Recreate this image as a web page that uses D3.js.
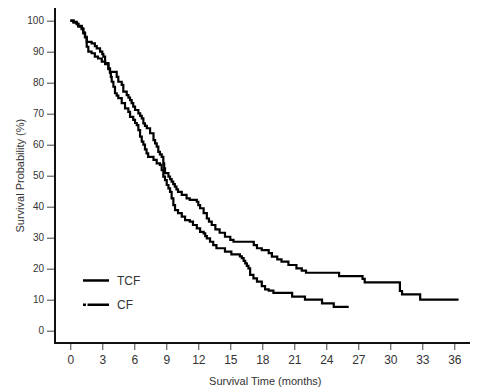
<!DOCTYPE html>
<html>
<head>
<meta charset="utf-8">
<script src="https://cdn.jsdelivr.net/npm/d3@7"></script>
<style>
  body { margin: 0; background: #fff; }
  #chart { width: 484px; height: 389px; }
  text { font-family: 'Liberation Sans', Arial, sans-serif; fill: #333; }
</style>
</head>
<body>
<div id="chart"></div>
<script>
// Kaplan-Meier steps: [months, survival %]
const tcfSteps = [
  [0, 100], [0.3, 99.4], [0.6, 98.9], [0.75, 98.1], [1.07, 97.5], [1.22, 96.2], [1.38, 94.8], [1.54, 93.2],
  [2.0, 92.7], [2.3, 91.8], [2.48, 91.1], [2.79, 90.0], [3.0, 89.2], [3.1, 88.4], [3.26, 86.3], [3.57, 84.6],
  [3.72, 83.5], [4.35, 81.9], [4.5, 80.3], [4.82, 79.3], [4.97, 77.1], [5.29, 76.0], [5.45, 75.2], [5.6, 74.4],
  [5.75, 73.4], [5.9, 72.3], [6.07, 71.2], [6.38, 70.1], [6.55, 69.3], [6.7, 68.5], [6.85, 66.9], [7.0, 66.1],
  [7.17, 65.3], [7.48, 63.7], [7.8, 61.5], [7.95, 60.4], [8.1, 59.4], [8.25, 57.7], [8.4, 56.9], [8.57, 56.1],
  [8.72, 54.0], [8.8, 52.4], [8.88, 50.8], [9.2, 49.7], [9.35, 48.9], [9.5, 48.1], [9.65, 47.3], [9.8, 46.5],
  [9.95, 45.6], [10.1, 44.8], [10.45, 43.8], [10.9, 42.7], [11.2, 42.2], [11.86, 41.6], [12.0, 40.5],
  [12.17, 39.5], [12.5, 37.9], [12.8, 36.2], [13.0, 35.2], [13.26, 34.1], [13.6, 32.7], [14.0, 31.6],
  [14.5, 30.3], [15.0, 29.3], [15.3, 28.7], [17.2, 27.6], [17.5, 26.6], [17.95, 26.0], [18.6, 25.0],
  [18.9, 23.9], [19.4, 23.0], [19.8, 22.3], [20.45, 21.2], [21.2, 20.1], [21.7, 19.4], [22.1, 18.7],
  [25.2, 17.6], [27.4, 16.7], [27.6, 15.6], [30.9, 12.8], [31.1, 11.7], [32.8, 10.0], [36.4, 10.0]
];
const cfSteps = [
  [0, 100], [0.3, 99.6], [0.6, 99.1], [0.75, 98.3], [1.07, 97.3], [1.22, 95.9], [1.38, 94.6], [1.54, 91.6],
  [1.69, 90.0], [2.0, 89.5], [2.3, 88.4], [2.6, 87.8], [2.95, 86.8], [3.26, 86.0], [3.57, 84.4], [3.72, 83.2],
  [3.8, 81.9], [3.88, 80.3], [4.04, 78.7], [4.19, 76.6], [4.35, 75.8], [4.5, 75.0], [4.82, 73.4], [5.13, 71.7],
  [5.44, 70.6], [5.6, 69.0], [5.9, 68.0], [6.07, 67.0], [6.23, 66.3], [6.38, 64.7], [6.54, 62.6], [6.7, 61.0],
  [6.85, 60.0], [7.0, 58.5], [7.15, 57.2], [7.3, 56.1], [7.8, 55.1], [8.1, 54.0], [8.4, 53.5], [8.57, 51.8],
  [8.72, 49.7], [8.88, 48.6], [9.04, 47.0], [9.2, 45.9], [9.35, 44.8], [9.5, 42.7], [9.66, 40.5], [9.82, 38.9],
  [10.1, 37.9], [10.45, 36.8], [10.76, 35.7], [11.2, 35.2], [11.5, 34.1], [11.86, 33.0], [12.17, 31.9],
  [12.5, 31.4], [12.65, 30.5], [12.8, 29.8], [13.1, 28.7], [13.4, 27.6], [13.7, 26.6], [14.5, 25.5],
  [15.1, 24.6], [15.9, 24.0], [16.08, 23.4], [16.25, 22.5], [16.4, 21.7], [16.55, 20.9], [16.7, 20.1],
  [16.86, 18.0], [17.17, 16.9], [17.5, 15.8], [17.95, 14.4], [18.26, 13.3], [18.6, 12.9], [19.04, 12.2],
  [20.8, 11.0], [22.0, 10.0], [23.6, 8.8], [24.7, 7.7], [26.1, 7.7]
];
const seriesNames = ['TCF', 'CF'];
const xTicks = [0, 3, 6, 9, 12, 15, 18, 21, 24, 27, 30, 33, 36];
const yTicks = [0, 10, 20, 30, 40, 50, 60, 70, 80, 90, 100];
const xTitle = 'Survival Time (months)';
const yTitle = 'Survival Probability (%)';

const width = 484, height = 389;
const svg = d3.select('#chart').append('svg')
  .attr('width', width).attr('height', height);

const xScale = d3.scaleLinear().domain([0, 36]).range([70.3, 454.3]);
const yScale = d3.scaleLinear().domain([0, 100]).range([330.7, 20.7]);
const axisX = 343, axisY = 55;

// axis lines
svg.append('line')
  .attr('x1', axisY).attr('x2', axisY).attr('y1', 8).attr('y2', axisX + 1)
  .attr('stroke', '#111').attr('stroke-width', 2);
svg.append('line')
  .attr('x1', axisY - 1).attr('x2', 470).attr('y1', axisX).attr('y2', axisX)
  .attr('stroke', '#111').attr('stroke-width', 2);

// y axis
const gy = svg.append('g').attr('transform', 'translate(' + (axisY - 1) + ',0)')
  .call(d3.axisLeft(yScale).tickValues(yTicks).tickSize(7).tickPadding(3));
gy.select('.domain').remove();
gy.selectAll('line').attr('stroke', '#444');
gy.selectAll('text').attr('font-size', 10).attr('fill', '#333')
  .style('font-family', "'Liberation Sans', Arial, sans-serif");

// x axis
const gx = svg.append('g').attr('transform', 'translate(0,' + (axisX + 1) + ')')
  .call(d3.axisBottom(xScale).tickValues(xTicks).tickSize(6).tickPadding(5));
gx.select('.domain').remove();
gx.selectAll('line').attr('stroke', '#444');
gx.selectAll('text').attr('font-size', 12).attr('fill', '#333')
  .style('font-family', "'Liberation Sans', Arial, sans-serif");

svg.append('text')
  .attr('x', (xScale(0) + xScale(36)) / 2 + 3).attr('y', 385)
  .attr('text-anchor', 'middle').attr('font-size', 11)
  .text(xTitle);
svg.append('text')
  .attr('transform', 'translate(24,' + yScale(50) + ') rotate(-90)')
  .attr('text-anchor', 'middle').attr('font-size', 11)
  .text(yTitle);

// curves
const line = d3.line()
  .x((d) => xScale(d[0]))
  .y((d) => yScale(d[1]))
  .curve(d3.curveStepAfter);

[tcfSteps, cfSteps].forEach((steps) => {
  svg.append('path')
    .datum(steps)
    .attr('d', line)
    .attr('fill', 'none')
    .attr('stroke', '#000')
    .attr('stroke-width', 2.2);
});

// legend
const legendG = svg.append('g');
const legendY = [16.2, 8.4];
seriesNames.forEach((name, i) => {
  legendG.append('line')
    .attr('x1', 83).attr('x2', 109)
    .attr('y1', yScale(legendY[i])).attr('y2', yScale(legendY[i]))
    .attr('stroke', '#000').attr('stroke-width', 2.5)
    .attr('stroke-dasharray', i === 1 ? '3,1.5,40' : null);
  legendG.append('text')
    .attr('x', 117).attr('y', yScale(legendY[i]))
    .attr('dy', '0.36em').attr('font-size', 12)
    .text(name);
});
</script>
</body>
</html>
